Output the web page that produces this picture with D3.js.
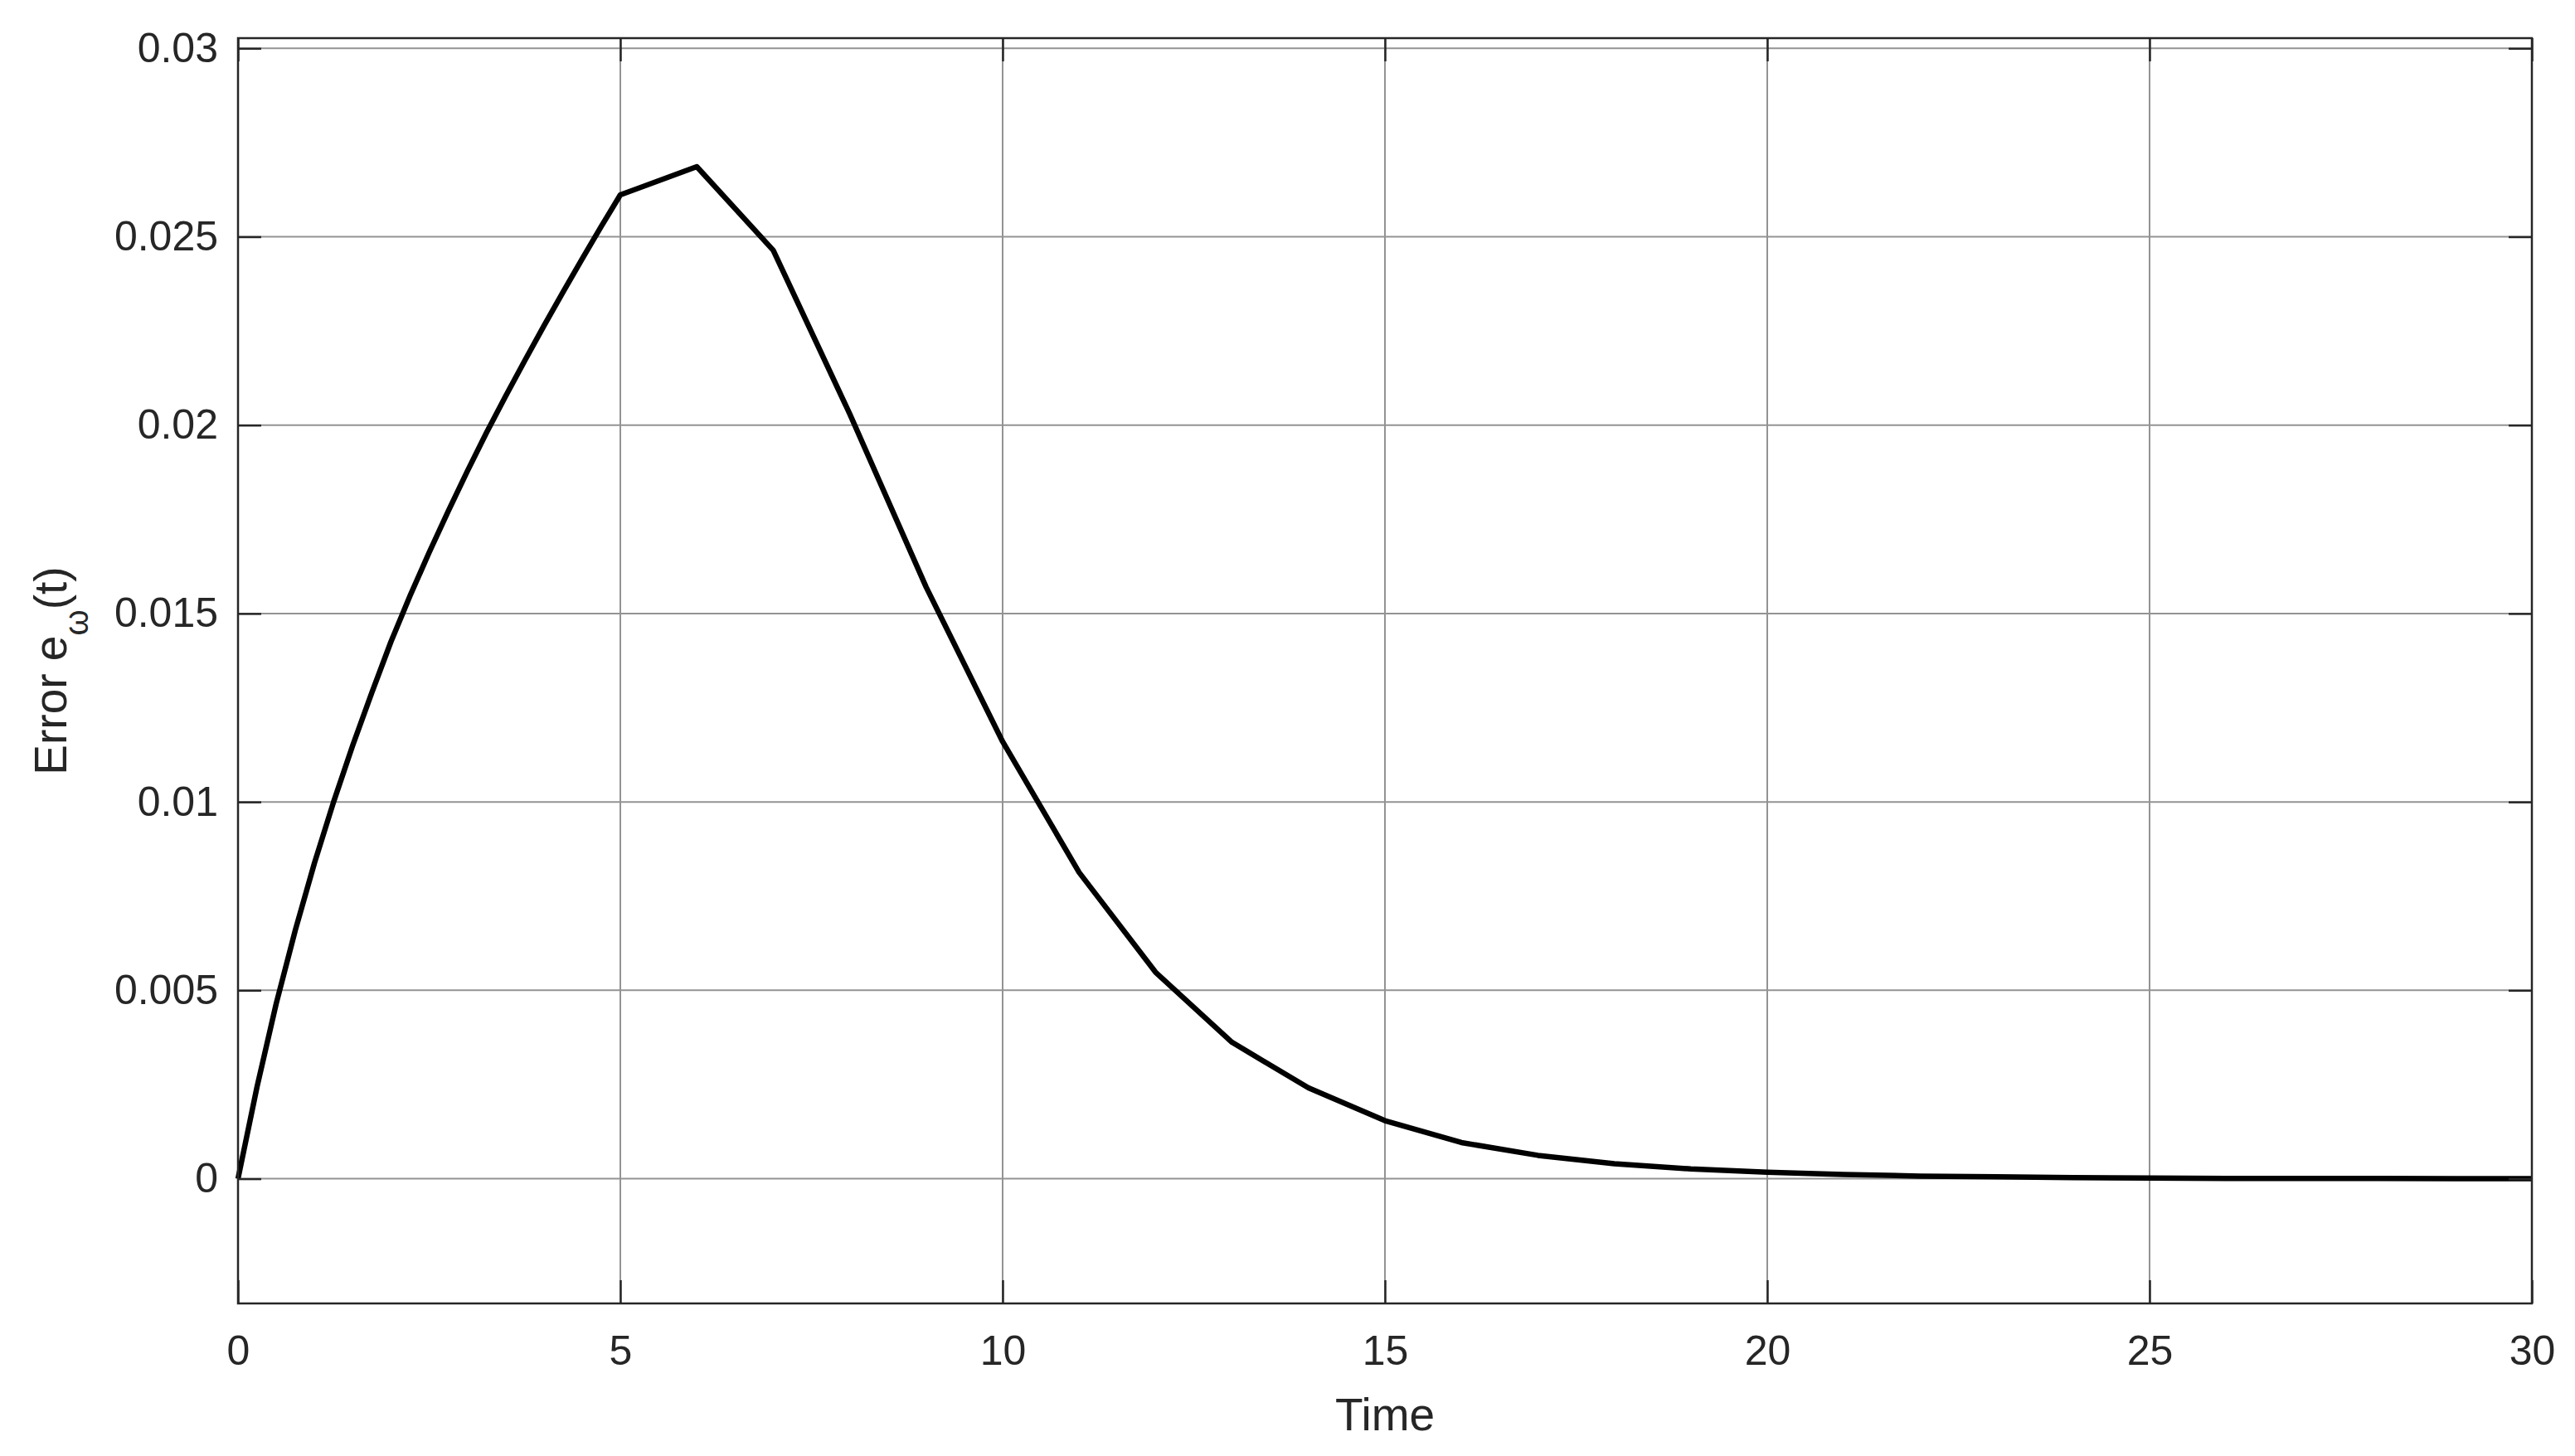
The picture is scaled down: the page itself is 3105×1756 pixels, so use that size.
<!DOCTYPE html>
<html>
<head>
<meta charset="utf-8">
<script src="https://cdn.jsdelivr.net/npm/d3@7"></script>
<style>
  html, body { margin: 0; padding: 0; background: #ffffff; }
  svg { display: block; }
  text { font-family: "Liberation Sans", Arial, Helvetica, sans-serif; fill: #262626; }
</style>
</head>
<body>
<svg id="chart" width="3105" height="1756"></svg>
<script>
// ---- data ----
const timeValues = [0, 0.25, 0.5, 0.75, 1, 1.25, 1.5, 1.75, 2, 2.25, 2.5, 2.75, 3, 3.25, 3.5, 3.75, 4, 4.25, 4.5, 4.75, 5,
  6, 7, 8, 9, 10, 11, 12, 13, 14, 15, 16, 17, 18, 19, 20, 21, 22, 23, 24, 25, 26, 27, 28, 29, 30];
const errorValues = [0, 0.00245, 0.00465, 0.0066, 0.00838, 0.0100, 0.0115, 0.0129, 0.01425, 0.01547, 0.01662, 0.01772, 0.01878, 0.0198, 0.02077, 0.02171, 0.02263, 0.02353, 0.02441, 0.02527, 0.02611,
  0.02686, 0.02464, 0.0203, 0.0157, 0.0116, 0.00813, 0.00548, 0.00362, 0.00241, 0.00154, 0.00096, 0.00062, 0.0004, 0.00026, 0.00017, 0.00011, 0.00007, 0.00005, 0.00003, 0.00002, 0.00001, 0.00001, 0.000005, 0.000003, 0.000002];
const xTicks = [0, 5, 10, 15, 20, 25, 30];
const xTickLabels = ["0", "5", "10", "15", "20", "25", "30"];
const yTicks = [0, 0.005, 0.01, 0.015, 0.02, 0.025, 0.03];
const yTickLabels = ["0", "0.005", "0.01", "0.015", "0.02", "0.025", "0.03"];
const xDomain = [0, 30];
const yDomain = [-0.00331, 0.03027];
const xLabel = "Time";

// ---- layout ----
const mLeft = 287, mRight = 3053, mTop = 46, mBottom = 1572;
const svg = d3.select("#chart");
const x = d3.scaleLinear().domain(xDomain).range([mLeft, mRight]);
const y = d3.scaleLinear().domain(yDomain).range([mBottom, mTop]);

// grid
const grid = svg.append("g");
grid.selectAll("line.vg").data(xTicks).join("line").attr("class", "vg")
  .attr("x1", d => x(d)).attr("x2", d => x(d))
  .attr("y1", mTop).attr("y2", mBottom)
  .attr("stroke", "#939393").attr("stroke-width", 2);
grid.selectAll("line.hg").data(yTicks).join("line").attr("class", "hg")
  .attr("x1", mLeft).attr("x2", mRight)
  .attr("y1", d => y(d)).attr("y2", d => y(d))
  .attr("stroke", "#939393").attr("stroke-width", 2);

// data line
const pts = timeValues.map((t, i) => [t, errorValues[i]]);
svg.append("path")
  .datum(pts)
  .attr("d", d3.line().x(d => x(d[0])).y(d => y(d[1])))
  .attr("fill", "none")
  .attr("stroke", "#000000")
  .attr("stroke-width", 6.5)
  .attr("stroke-linejoin", "round")
  .attr("stroke-linecap", "butt");

// axes
function styleAxis(g) {
  g.select(".domain").remove();
  g.selectAll(".tick line").attr("stroke", "#262626").attr("stroke-width", 2.5);
  g.selectAll(".tick text").attr("fill", "#262626").style("font-size", "50px")
    .style("font-family", "'Liberation Sans', Arial, Helvetica, sans-serif");
}
svg.append("g").attr("transform", `translate(${mLeft},0)`)
  .call(d3.axisLeft(y).tickValues(yTicks).tickFormat((d, i) => yTickLabels[i]).tickSizeInner(-28).tickSizeOuter(0).tickPadding(24))
  .call(styleAxis);
svg.append("g").attr("transform", `translate(${mRight},0)`)
  .call(d3.axisRight(y).tickValues(yTicks).tickFormat("").tickSizeInner(-28).tickSizeOuter(0))
  .call(styleAxis);
svg.append("g").attr("transform", `translate(0,${mBottom})`)
  .call(d3.axisBottom(x).tickValues(xTicks).tickFormat((d, i) => xTickLabels[i]).tickSizeInner(-28).tickSizeOuter(0).tickPadding(38))
  .call(styleAxis);
svg.append("g").attr("transform", `translate(0,${mTop})`)
  .call(d3.axisTop(x).tickValues(xTicks).tickFormat("").tickSizeInner(-28).tickSizeOuter(0))
  .call(styleAxis);

// box
svg.append("rect")
  .attr("x", mLeft).attr("y", mTop)
  .attr("width", mRight - mLeft).attr("height", mBottom - mTop)
  .attr("fill", "none").attr("stroke", "#262626").attr("stroke-width", 2.5);

// x label
svg.append("text")
  .attr("x", (mLeft + mRight) / 2).attr("y", 1725)
  .attr("text-anchor", "middle")
  .style("font-size", "55px")
  .text(xLabel);

// y label with subscript
const yl = svg.append("text")
  .attr("transform", `translate(80,${(mTop + mBottom) / 2}) rotate(-90)`)
  .attr("text-anchor", "middle")
  .style("font-size", "55px");
yl.append("tspan").text("Error e");
yl.append("tspan").attr("dy", 26).style("font-size", "40px").text("ω");
yl.append("tspan").attr("dy", -26).text("(t)");
</script>
</body>
</html>
